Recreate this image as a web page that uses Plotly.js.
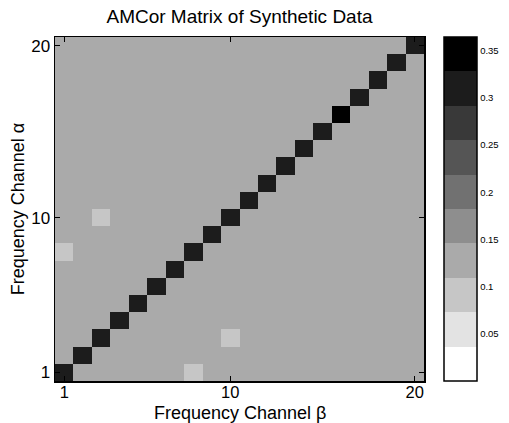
<!DOCTYPE html>
<html>
<head>
<meta charset="utf-8">
<script src="https://cdn.plot.ly/plotly-3.0.1.min.js"></script>
<style>html,body{margin:0;padding:0;background:#fff;}#chart{width:509px;height:423px;}</style>
</head>
<body>
<div id="chart"></div>
<script>
// Channel indices (beta = x, alpha = y)
const channels = [1,2,3,4,5,6,7,8,9,10,11,12,13,14,15,16,17,18,19,20];
// Off-diagonal background value
const backgroundValue = 0.13;
// Diagonal values (alpha = beta)
const diagonalValues = [0.31,0.31,0.31,0.31,0.31,0.31,0.31,0.31,0.31,0.31,
                        0.31,0.31,0.31,0.31,0.31,0.36,0.31,0.31,0.31,0.31];
// Lighter off-diagonal cells: beta, alpha, value
const lightBeta  = [3, 10, 1, 8];
const lightAlpha = [10, 3, 8, 1];
const lightValue = [0.09, 0.09, 0.09, 0.09];
// Colour levels (gray, 10 bands, white -> black)
const grayLevels = [255,227,198,170,142,113,85,57,28,0];
const colorTickVals = [0.05,0.1,0.15,0.2,0.25,0.3,0.35];
const colorTickText = ['0.05','0.1','0.15','0.2','0.25','0.3','0.35'];
const axisTickVals = [1,10,20];
const zMax = 0.3646;

// build matrix z[alpha-1][beta-1]
const z = channels.map(a => channels.map(b => backgroundValue));
channels.forEach((c,i) => { z[i][i] = diagonalValues[i]; });
lightBeta.forEach((b,k) => { z[lightAlpha[k]-1][b-1] = lightValue[k]; });

const n = grayLevels.length;
const colorscale = [];
grayLevels.forEach((g,i) => {
  const c = `rgb(${g},${g},${g})`;
  colorscale.push([i/n, c]);
  colorscale.push([(i+1)/n, c]);
});

const font = 'Liberation Sans, Arial, Helvetica, sans-serif';
const trace = {
  type: 'heatmap',
  x: channels, y: channels, z: z,
  zmin: 0, zmax: zMax,
  colorscale: colorscale,
  showscale: true,
  hoverinfo: 'skip',
  colorbar: {
    thickness: 33, thicknessmode: 'pixels',
    len: 344, lenmode: 'pixels',
    x: (448-55)/373, xanchor: 'left', xpad: 0,
    y: 0.5, yanchor: 'middle', ypad: 0,
    outlinewidth: 1.5, outlinecolor: '#000',
    tickvals: colorTickVals, ticktext: colorTickText,
    ticks: '', tickfont: {family: font, size: 9.5, color: '#000'},
    ticklabelposition: 'outside'
  }
};

const axisCommon = {
  range: [0.5, 20.5],
  tickvals: axisTickVals,
  ticktext: axisTickVals.map(String),
  ticks: 'inside', ticklen: 5, tickwidth: 1, tickcolor: '#000',
  showline: true, linecolor: '#000', linewidth: 1.5, mirror: 'ticks',
  showgrid: false, zeroline: false,
  tickfont: {family: font, size: 17, color: '#000'}
};

const layout = {
  width: 509, height: 423,
  margin: {l: 55, r: 81, t: 37, b: 42},
  paper_bgcolor: '#fff', plot_bgcolor: '#fff',
  font: {family: font, color: '#000'},
  title: {text: 'AMCor Matrix of Synthetic Data', font: {family: font, size: 19, color: '#000'},
          xref: 'paper', x: 0.5, xanchor: 'center', yref: 'container', y: 1 - 16/423, yanchor: 'middle'},
  xaxis: Object.assign({}, axisCommon, {ticklabelstandoff: -4, tickfont: {family: font, size: 16.5, color: '#000'}}),
  yaxis: Object.assign({}, axisCommon, {
    title: {text: 'Frequency Channel α', font: {family: font, size: 18, color: '#000'}, standoff: 2}
  }),
  annotations: [{
    text: 'Frequency Channel β', showarrow: false,
    xref: 'paper', x: 0.5, xanchor: 'center',
    yref: 'paper', y: -(413-381)/344, yanchor: 'middle',
    font: {family: font, size: 18, color: '#000'}
  }]
};

Plotly.newPlot('chart', [trace], layout, {displayModeBar: false, staticPlot: true});
</script>
</body>
</html>
